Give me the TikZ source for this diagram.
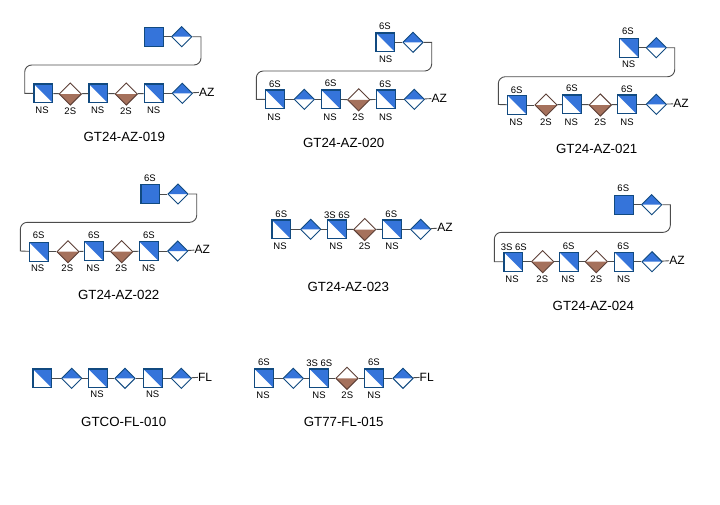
\documentclass[tikz,border=0pt]{standalone}
\usepackage{fontspec}
\setmainfont{Liberation Sans}
\usetikzlibrary{shapes.geometric}

\definecolor{sugarblue}{HTML}{3574DA}
\definecolor{edgeblue}{HTML}{114A80}
\definecolor{sugarbrown}{HTML}{A5715C}
\definecolor{edgebrown}{HTML}{5D4037}

\tikzset{
  halfsq/.style={rectangle,draw=edgeblue,line width=1.2pt,minimum size=18.8pt,inner sep=0pt,fill=white,
    path picture={\fill[sugarblue] (path picture bounding box.north west) -- (path picture bounding box.north east) -- (path picture bounding box.south east) -- cycle;}},
  fullsq/.style={rectangle,draw=edgeblue,line width=1.2pt,minimum size=18.8pt,inner sep=0pt,fill=sugarblue},
  bluedia/.style={diamond,aspect=1,draw=edgeblue,line width=.9pt,minimum size=20.5pt,inner sep=0pt,fill=white,
    path picture={\fill[sugarblue] (path picture bounding box.west) -- (path picture bounding box.north) -- (path picture bounding box.east) -- cycle;}},
  browndia/.style={diamond,aspect=1,draw=edgebrown,line width=.9pt,minimum size=22.5pt,inner sep=0pt,fill=white,
    path picture={\fill[sugarbrown] (path picture bounding box.west) -- (path picture bounding box.south) -- (path picture bounding box.east) -- cycle;}},
  lnk/.style={draw=black!70,line width=.9pt},
  tag/.style={inner sep=0pt,font=\fontsize{9.5}{11}\selectfont},
  tail/.style={inner sep=0pt,font=\fontsize{12}{14}\selectfont},
  title/.style={inner sep=0pt,font=\fontsize{13.3}{15}\selectfont}
}

\begin{document}
\begin{tikzpicture}[x=1pt,y=-1pt]
  \useasboundingbox (0,0) rectangle (720,504);

  % GT24-AZ-019
  \node[fullsq]   (a6) at (154,36.7) {};
  \node[bluedia]  (a7) at (181.7,36.7) {};
  \node[halfsq]   (a1) at (43.3,93.3) {};
  \node[browndia] (a2) at (70.3,94) {};
  \node[halfsq]   (a3) at (98.3,93.3) {};
  \node[browndia] (a4) at (126.3,94) {};
  \node[halfsq]   (a5) at (153.7,93.3) {};
  \node[bluedia]  (a8) at (182.3,93.3) {};
  \node[tail]     (a9) at (206.7,92) {AZ};
  \node[tag] (a1b) at (42,110.7) {NS};
  \node[tag] (a2b) at (70.3,111) {2S};
  \node[tag] (a3b) at (97.7,110.7) {NS};
  \node[tag] (a4b) at (126,111) {2S};
  \node[tag] (a5b) at (153.7,110.7) {NS};
  \node[title] (at) at (124.3,137.3) {GT24-AZ-019};
  \coordinate (ac) at (201,36.7);
  \coordinate (ar) at (201,65);
  \coordinate (al) at (24.7,65);
  \coordinate (ad) at (24.7,93.3);

  % GT24-AZ-020
  \node[halfsq]   (b6) at (385.3,42.3) {};
  \node[bluedia]  (b7) at (413,42.3) {};
  \node[halfsq]   (b1) at (275,99.3) {};
  \node[bluedia]  (b2) at (304.3,99.3) {};
  \node[halfsq]   (b3) at (330.7,99.3) {};
  \node[browndia] (b4) at (358.7,99.8) {};
  \node[halfsq]   (b5) at (385.7,99.3) {};
  \node[bluedia]  (b8) at (414.3,99.3) {};
  \node[tail]     (b9) at (439.3,98.3) {AZ};
  \node[tag] (b6t) at (385,26.7) {6S};
  \node[tag] (b6b) at (385.7,59.3) {NS};
  \node[tag] (b1t) at (275,84.3) {6S};
  \node[tag] (b1b) at (274,117.3) {NS};
  \node[tag] (b3t) at (330.7,83.7) {6S};
  \node[tag] (b3b) at (330,117) {NS};
  \node[tag] (b4b) at (358.3,117.3) {2S};
  \node[tag] (b5t) at (385.3,84.3) {6S};
  \node[tag] (b5b) at (385.7,117) {NS};
  \node[title] (bt) at (343.7,142.7) {GT24-AZ-020};
  \coordinate (bc) at (431.7,42.3);
  \coordinate (br) at (431.7,71);
  \coordinate (bl) at (256.3,71);
  \coordinate (bd) at (256.3,99.3);

  % GT24-AZ-021
  \node[halfsq]   (c6) at (628.7,47.7) {};
  \node[bluedia]  (c7) at (656.3,47.7) {};
  \node[halfsq]   (c1) at (517,105) {};
  \node[browndia] (c2) at (546,105) {};
  \node[halfsq]   (c3) at (572,104.3) {};
  \node[browndia] (c4) at (600.3,105) {};
  \node[halfsq]   (c5) at (627,104.3) {};
  \node[bluedia]  (c8) at (656.3,104.3) {};
  \node[tail]     (c9) at (681,103.7) {AZ};
  \node[tag] (c6t) at (628,31.7) {6S};
  \node[tag] (c6b) at (628.7,64.3) {NS};
  \node[tag] (c1t) at (516.7,90) {6S};
  \node[tag] (c1b) at (516,122.3) {NS};
  \node[tag] (c2b) at (546,122) {2S};
  \node[tag] (c3t) at (572,88.7) {6S};
  \node[tag] (c3b) at (571.3,122) {NS};
  \node[tag] (c4b) at (600.3,122) {2S};
  \node[tag] (c5t) at (627,89.7) {6S};
  \node[tag] (c5b) at (627,122) {NS};
  \node[title] (ct) at (596.7,149) {GT24-AZ-021};
  \coordinate (cc) at (674.7,47.7);
  \coordinate (cr) at (674.7,76.7);
  \coordinate (cl) at (498.3,76.7);
  \coordinate (cd) at (498.3,104.5);

  % GT24-AZ-022
  \node[fullsq]   (d6) at (150.3,194) {};
  \node[bluedia]  (d7) at (178,194) {};
  \node[halfsq]   (d1) at (38.7,251.7) {};
  \node[browndia] (d2) at (68,251.7) {};
  \node[halfsq]   (d3) at (93.7,251) {};
  \node[browndia] (d4) at (121.7,251.7) {};
  \node[halfsq]   (d5) at (148.7,251) {};
  \node[bluedia]  (d8) at (177.7,251) {};
  \node[tail]     (d9) at (202.3,249.7) {AZ};
  \node[tag] (d6t) at (150,178.3) {6S};
  \node[tag] (d1t) at (38.7,235.7) {6S};
  \node[tag] (d1b) at (37.7,268.7) {NS};
  \node[tag] (d2b) at (67.3,268.7) {2S};
  \node[tag] (d3t) at (94,235) {6S};
  \node[tag] (d3b) at (93,268.3) {NS};
  \node[tag] (d4b) at (121.3,268.7) {2S};
  \node[tag] (d5t) at (149,235.7) {6S};
  \node[tag] (d5b) at (148.7,268.7) {NS};
  \node[title] (dt) at (118.7,295) {GT24-AZ-022};
  \coordinate (dc) at (196.7,194);
  \coordinate (dr) at (196.7,222.3);
  \coordinate (dl) at (20.3,222.3);
  \coordinate (dd) at (20.3,251);

  % GT24-AZ-023
  \node[halfsq]   (e1) at (281.3,229.3) {};
  \node[bluedia]  (e2) at (310.7,229.3) {};
  \node[halfsq]   (e3) at (337,229.3) {};
  \node[browndia] (e4) at (364.7,229.5) {};
  \node[halfsq]   (e5) at (392,229.3) {};
  \node[bluedia]  (e6) at (420.7,229.3) {};
  \node[tail]     (e7) at (445,227.7) {AZ};
  \node[tag] (e1t) at (281.3,214.3) {6S};
  \node[tag] (e1b) at (280,246.3) {NS};
  \node[tag] (e3t) at (337,215) {3S 6S};
  \node[tag] (e3b) at (336,246.3) {NS};
  \node[tag] (e4b) at (364.7,246.3) {2S};
  \node[tag] (e5t) at (391.3,214.3) {6S};
  \node[tag] (e5b) at (392,246.3) {NS};
  \node[title] (et) at (348.3,287.3) {GT24-AZ-023};

  % GT24-AZ-024
  \node[fullsq]   (f6) at (624,204.7) {};
  \node[bluedia]  (f7) at (651.7,204.7) {};
  \node[halfsq]   (f1) at (513.3,261.7) {};
  \node[browndia] (f2) at (542.7,261.7) {};
  \node[halfsq]   (f3) at (568.7,261.7) {};
  \node[browndia] (f4) at (596.3,261.7) {};
  \node[halfsq]   (f5) at (623.7,261.7) {};
  \node[bluedia]  (f8) at (652,261.7) {};
  \node[tail]     (f9) at (677,260.3) {AZ};
  \node[tag] (f6t) at (623.3,188.7) {6S};
  \node[tag] (f1t) at (513.7,247.7) {3S 6S};
  \node[tag] (f1b) at (512,279) {NS};
  \node[tag] (f2b) at (542.3,279) {2S};
  \node[tag] (f3t) at (568.7,246) {6S};
  \node[tag] (f3b) at (568,279) {NS};
  \node[tag] (f4b) at (596.3,279) {2S};
  \node[tag] (f5t) at (623.3,246.3) {6S};
  \node[tag] (f5b) at (623.7,279) {NS};
  \node[title] (ft) at (593.3,305.7) {GT24-AZ-024};
  \coordinate (fc) at (670.3,204.7);
  \coordinate (fr) at (670.3,232.3);
  \coordinate (fl) at (494.3,232.3);
  \coordinate (fd) at (494.3,261.7);

  % GTCO-FL-010
  \node[halfsq]  (g1) at (42.3,378.3) {};
  \node[bluedia] (g2) at (71.7,378.3) {};
  \node[halfsq]  (g3) at (97.7,378.3) {};
  \node[bluedia] (g4) at (125,378.3) {};
  \node[halfsq]  (g5) at (152.7,378.3) {};
  \node[bluedia] (g6) at (181.3,378.3) {};
  \node[tail]    (g7) at (205,377) {FL};
  \node[tag] (g3b) at (97,394.7) {NS};
  \node[tag] (g5b) at (152.7,394.7) {NS};
  \node[title] (gt) at (123.7,422) {GTCO-FL-010};

  % GT77-FL-015
  \node[halfsq]   (h1) at (264,378.3) {};
  \node[bluedia]  (h2) at (293.3,378.3) {};
  \node[halfsq]   (h3) at (319,378.3) {};
  \node[browndia] (h4) at (347,378.3) {};
  \node[halfsq]   (h5) at (374,378.3) {};
  \node[bluedia]  (h6) at (403,378.3) {};
  \node[tail]     (h7) at (426.7,377) {FL};
  \node[tag] (h1t) at (264,362.7) {6S};
  \node[tag] (h1b) at (263,395) {NS};
  \node[tag] (h3t) at (319.3,363.7) {3S 6S};
  \node[tag] (h3b) at (319,395) {NS};
  \node[tag] (h4b) at (347.3,395) {2S};
  \node[tag] (h5t) at (374,362.7) {6S};
  \node[tag] (h5b) at (374,395) {NS};
  \node[title] (ht) at (343.7,422) {GT77-FL-015};

  \begin{scope}[every edge/.style={lnk}]
    \path (a1) edge (a2) (a2) edge (a3) (a3) edge (a4) (a4) edge (a5) (a5) edge (a8) (a8) edge (a9) (a6) edge (a7);
    \path (b1) edge (b2) (b2) edge (b3) (b3) edge (b4) (b4) edge (b5) (b5) edge (b8) (b8) edge (b9) (b6) edge (b7);
    \path (c1) edge (c2) (c2) edge (c3) (c3) edge (c4) (c4) edge (c5) (c5) edge (c8) (c8) edge (c9) (c6) edge (c7);
    \path (d1) edge (d2) (d2) edge (d3) (d3) edge (d4) (d4) edge (d5) (d5) edge (d8) (d8) edge (d9) (d6) edge (d7);
    \path (e1) edge (e2) (e2) edge (e3) (e3) edge (e4) (e4) edge (e5) (e5) edge (e6) (e6) edge (e7);
    \path (f1) edge (f2) (f2) edge (f3) (f3) edge (f4) (f4) edge (f5) (f5) edge (f8) (f8) edge (f9) (f6) edge (f7);
    \path (g1) edge (g2) (g2) edge (g3) (g3) edge (g4) (g4) edge (g5) (g5) edge (g6) (g6) edge (g7);
    \path (h1) edge (h2) (h2) edge (h3) (h3) edge (h4) (h4) edge (h5) (h5) edge (h6) (h6) edge (h7);
  \end{scope}

  \draw[lnk] (a7) -- (ac) [rounded corners=7pt] -- (ar) -- (al) [sharp corners] -- (ad) -- (a1);
  \draw[lnk] (b7) -- (bc) [rounded corners=7pt] -- (br) -- (bl) [sharp corners] -- (bd) -- (b1);
  \draw[lnk] (c7) -- (cc) [rounded corners=7pt] -- (cr) -- (cl) [sharp corners] -- (cd) -- (c1);
  \draw[lnk] (d7) -- (dc) [rounded corners=7pt] -- (dr) -- (dl) [sharp corners] -- (dd) -- (d1);
  \draw[lnk] (f7) -- (fc) [rounded corners=7pt] -- (fr) -- (fl) [sharp corners] -- (fd) -- (f1);

\end{tikzpicture}
\end{document}
